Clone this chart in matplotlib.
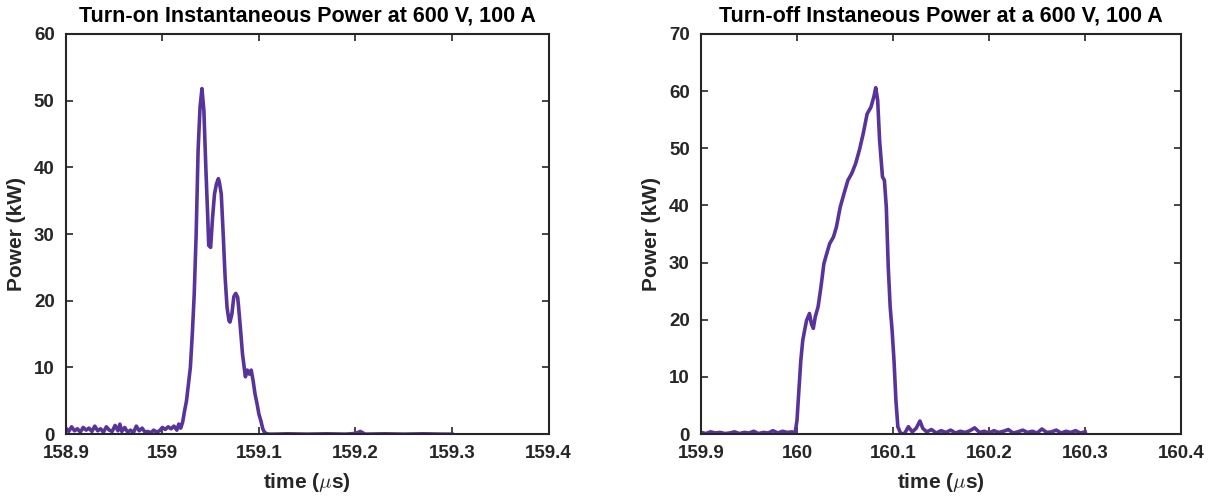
import numpy as np
import matplotlib.pyplot as plt

# turn-on waveform (time in us, power in kW)
t_on = [158.900, 158.903, 158.906, 158.909, 158.912, 158.915, 158.918, 158.921, 158.924,
        158.927, 158.930, 158.933, 158.936, 158.939, 158.942, 158.945, 158.948, 158.951,
        158.954, 158.956, 158.958, 158.961, 158.964, 158.967, 158.970, 158.973, 158.976,
        158.979, 158.982, 158.985, 158.988, 158.991, 158.994, 158.997, 159.000, 159.003,
        159.006, 159.009, 159.012, 159.015, 159.017, 159.019, 159.021, 159.023, 159.025,
        159.027, 159.029, 159.031, 159.033, 159.035, 159.037, 159.039, 159.041, 159.043,
        159.045, 159.047, 159.048, 159.050, 159.052, 159.054, 159.056, 159.058, 159.059,
        159.061, 159.063, 159.065, 159.067, 159.069, 159.070, 159.072, 159.074, 159.076,
        159.078, 159.079, 159.081, 159.083, 159.086, 159.088, 159.090, 159.092, 159.094,
        159.096, 159.098, 159.100, 159.102, 159.104, 159.106, 159.108, 159.110, 159.115,
        159.130, 159.150, 159.170, 159.190, 159.200, 159.205, 159.210, 159.230, 159.250,
        159.270, 159.290, 159.300]
p_on = [0.9, 0.4, 1.1, 0.5, 0.8, 0.3, 1.0, 0.6, 0.9,
        0.4, 1.2, 0.5, 0.8, 0.3, 1.1, 0.6, 0.4, 1.3,
        0.5, 1.5, 0.4, 1.0, 0.3, 0.6, 0.2, 1.2, 0.5,
        0.9, 0.3, 0.4, 0.2, 0.6, 0.3, 0.5, 1.0, 0.7,
        1.1, 0.8, 1.2, 0.6, 1.5, 0.9, 1.8, 3.5, 5.0,
        7.5, 10.0, 15.0, 21.0, 30.0, 42.5, 49.0, 51.8, 48.5,
        40.0, 32.5, 28.3, 28.0, 32.5, 36.0, 37.5, 38.3, 37.8,
        36.0, 30.0, 23.5, 19.0, 17.0, 16.8, 18.0, 20.6, 21.1,
        20.5, 19.0, 15.6, 12.0, 8.6, 9.6, 9.0, 9.6, 8.0,
        6.0, 4.6, 3.0, 2.0, 0.8, 0.2, 0.1, 0.0, 0.0,
        0.05, 0.0, 0.05, 0.0, 0.1, 0.4, 0.0, 0.05, 0.0,
        0.05, 0.0, 0.0]

# turn-off waveform
t_off = [159.900, 159.905, 159.910, 159.915, 159.920, 159.925, 159.930, 159.935, 159.940,
         159.945, 159.950, 159.955, 159.960, 159.965, 159.970, 159.975, 159.980, 159.985,
         159.990, 159.995, 159.998, 160.000, 160.002, 160.004, 160.006, 160.008, 160.010,
         160.013, 160.015, 160.017, 160.019, 160.022, 160.025, 160.028, 160.031, 160.034,
         160.038, 160.041, 160.045, 160.049, 160.053, 160.057, 160.061, 160.065, 160.069,
         160.073, 160.077, 160.080, 160.082, 160.084, 160.086, 160.089, 160.091, 160.093,
         160.095, 160.097, 160.099, 160.101, 160.103, 160.105, 160.108, 160.112, 160.116,
         160.120, 160.124, 160.128, 160.131, 160.135, 160.140, 160.145, 160.150, 160.155,
         160.160, 160.165, 160.170, 160.175, 160.180, 160.185, 160.190, 160.195, 160.200,
         160.205, 160.210, 160.215, 160.220, 160.225, 160.230, 160.235, 160.240, 160.245,
         160.250, 160.255, 160.260, 160.265, 160.270, 160.275, 160.280, 160.285, 160.290,
         160.295, 160.300]
p_off = [0.3, 0.1, 0.4, 0.2, 0.3, 0.1, 0.2, 0.4, 0.1,
         0.3, 0.2, 0.5, 0.1, 0.3, 0.2, 0.6, 0.2, 0.5,
         0.3, 0.4, 0.1, 2.4, 7.7, 12.9, 16.4, 18.2, 19.9,
         21.1, 19.3, 18.5, 20.5, 22.3, 25.8, 29.8, 31.6, 33.3,
         34.5, 36.2, 39.7, 42.1, 44.4, 45.6, 47.3, 49.7, 52.6,
         56.0, 57.2, 59.0, 60.6, 58.4, 51.4, 45.0, 44.4, 39.7,
         29.3, 22.3, 18.2, 12.9, 5.9, 1.3, 0.1, 0.1, 1.3,
         0.4, 1.0, 2.3, 1.0, 0.4, 0.8, 0.2, 0.6, 0.3,
         0.7, 0.2, 0.5, 0.3, 0.6, 1.1, 0.3, 0.5, 0.2,
         0.6, 0.3, 0.5, 0.8, 0.2, 0.4, 0.7, 0.3, 0.5,
         0.2, 0.9, 0.3, 0.4, 0.7, 0.2, 0.5, 0.3, 0.6,
         0.2, 0.4]

plt.rcParams['font.family'] = ['Liberation Sans', 'DejaVu Sans']
plt.rcParams['font.weight'] = 'bold'
plt.rcParams['mathtext.fontset'] = 'cm'

color = '#58349a'
dark = '#262626'

fig = plt.figure(figsize=(12.19, 4.99), dpi=100)
ax1 = fig.add_axes([0.054, 0.130, 0.396, 0.802])
ax2 = fig.add_axes([0.575, 0.130, 0.394, 0.802])

panels = [
    (ax1, t_on, p_on, (158.9, 159.4), 60, 'Turn-on Instantaneous Power at 600 V, 100 A',
     [158.9, 159.0, 159.1, 159.2, 159.3, 159.4], ['158.9', '159', '159.1', '159.2', '159.3', '159.4']),
    (ax2, t_off, p_off, (159.9, 160.4), 70, 'Turn-off Instaneous Power at a 600 V, 100 A',
     [159.9, 160.0, 160.1, 160.2, 160.3, 160.4], ['159.9', '160', '160.1', '160.2', '160.3', '160.4']),
]

for ax, t, p, xl, ymax, title, xt, xtl in panels:
    ax.plot(t, p, color=color, lw=2.6, solid_joinstyle='round')
    ax.set_xlim(*xl)
    ax.set_ylim(0, ymax)
    ax.set_xticks(xt)
    ax.set_xticklabels(xtl)
    ax.set_yticks(np.arange(0, ymax + 1, 10))
    ax.tick_params(direction='in', top=True, right=True, length=5, width=1.2,
                   labelsize=13.5, colors=dark, pad=8)
    for s in ax.spines.values():
        s.set_linewidth(1.5)
        s.set_color(dark)
    ax.set_title(title, fontsize=15.5, fontweight='bold', pad=9)
    ax.set_xlabel(r'time ($\mu$s)', fontsize=15, fontweight='bold', color=dark, labelpad=6)
    ax.set_ylabel('Power (kW)', fontsize=15, fontweight='bold', color=dark, labelpad=6)

fig.savefig('out.png', dpi=100)
